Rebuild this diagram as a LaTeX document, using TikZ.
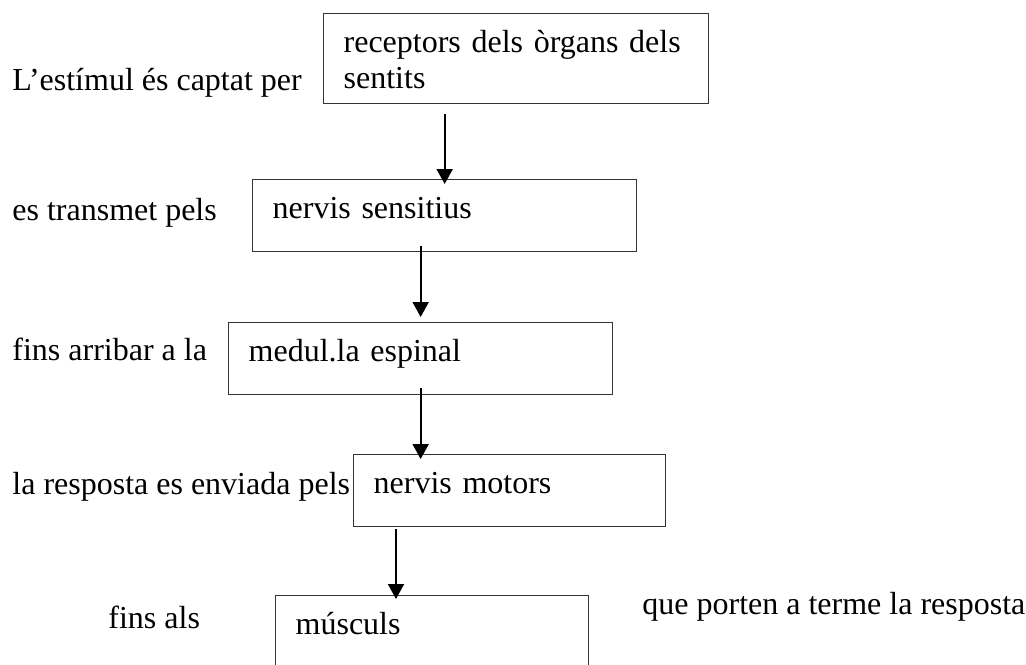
\documentclass[tikz,border=0pt]{standalone}
\usepackage{fontspec}
\setmainfont{Liberation Serif}
\usetikzlibrary{arrows.meta}

\tikzset{
  box/.style={draw=black!80, line width=0.65pt, anchor=north west, align=left,
    inner xsep=10pt, inner ysep=0pt, text height=19.5pt},
  lbl/.style={anchor=base west, inner sep=0pt},
  arr/.style={line width=1pt, -{Triangle[width=8pt,length=7.5pt]}}
}

\begin{document}
\begin{tikzpicture}[x=0.5pt, y=-0.5pt, font=\fontsize{16}{18}\selectfont]
\clip (0,0) rectangle (1026,664);
\node (b1) at (323,13)[box][text width=172.5pt, text depth=25.5pt] {receptors dels òrgans dels\\sentits};
\node (b2) at (252,179)[box][text width=172pt, text depth=16.5pt] {nervis sensitius};
\node (b3) at (228,322)[box][text width=172pt, text depth=16.5pt] {medul.la espinal};
\node (b4) at (353,454)[box][text width=136pt, text depth=16.5pt] {nervis motors};
\node (b5) at (275,595)[box][text width=136.5pt, text depth=30pt] {músculs};
\node (t1) at (12,90)[lbl] {L’estímul és captat per};
\node (t2) at (12,220)[lbl] {es transmet pels};
\node (t3) at (12,360)[lbl] {fins arribar a la};
\node (t4) at (12,494)[lbl] {la resposta es enviada pels};
\node (t5) at (108,628)[lbl] {fins als};
\node (t6) at (642,614)[lbl] {que porten a terme la resposta};
\draw[arr, shorten >=-2.5pt] ([yshift=-5pt]b1.south -| b2.north) -- (b2.north);
\draw[arr, shorten >=2.5pt] ([yshift=3pt]b2.south -| b3.north) -- (b3.north);
\draw[arr, shorten >=-2.5pt] ([yshift=3.5pt]b3.south) -- (b4.north -| b3.south);
\draw[arr, shorten >=-2pt] ([xshift=21.5pt,yshift=-1pt]b4.south west) coordinate (a4) -- (a4 |- b5.north);
\end{tikzpicture}
\end{document}
